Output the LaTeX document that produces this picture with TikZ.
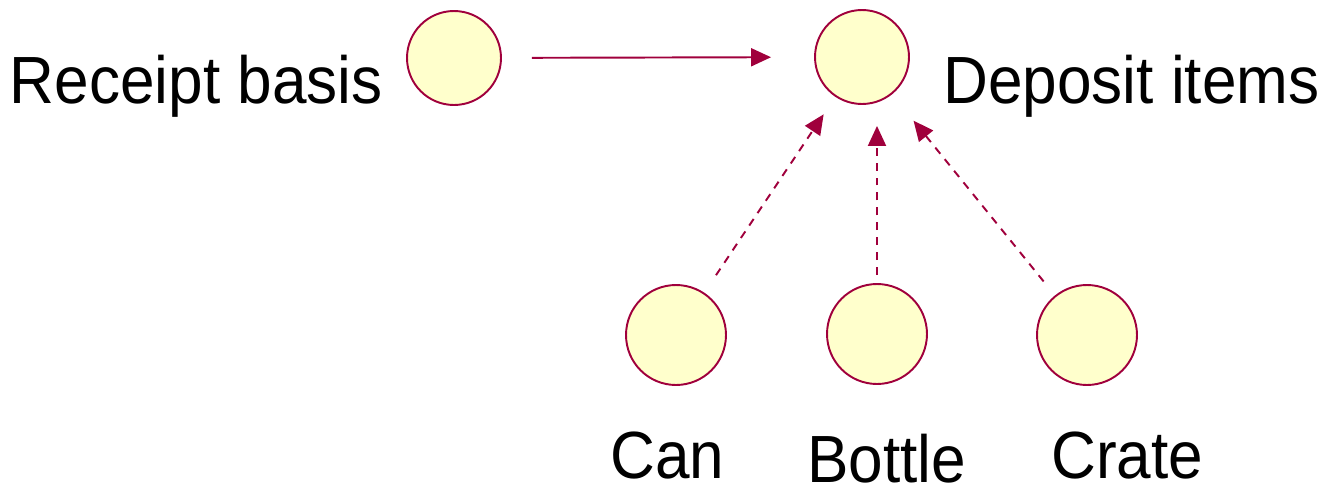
\documentclass[tikz,border=0pt]{standalone}
\usepackage{fontspec}
\setmainfont{Liberation Sans}[FakeStretch=0.93]
\usetikzlibrary{arrows.meta}
\definecolor{edgered}{HTML}{A0003C}
\definecolor{fillyellow}{HTML}{FFFFCC}
\begin{document}
\begin{tikzpicture}[x=0.02cm, y=-0.02cm,
    cls/.style={circle, draw=edgered, fill=fillyellow, line width=1.1pt, inner sep=0pt},
    lbl/.style={font=\fontsize{38}{44}\selectfont, inner sep=0pt, text depth=0pt},
    assoc/.style={draw=edgered, line width=1.1pt, -{Triangle[length=0.4cm,width=0.36cm]}},
    dep/.style={assoc, dash pattern=on 4.5pt off 4pt}]
  \useasboundingbox (0,0) rectangle (1333,487);

  % classes
  \node[cls, minimum size=1.88cm] (receipt) at (454,58) {};
  \node[cls, minimum size=1.88cm] (deposit) at (862,57) {};
  \node[cls, minimum size=2cm] (can) at (676,335) {};
  \node[cls, minimum size=2cm] (bottle) at (877,334) {};
  \node[cls, minimum size=2cm] (crate) at (1087,335) {};

  % names
  \node[lbl, anchor=base east] at (383,103) {Receipt basis};
  \node[lbl, anchor=base west] at (943,103) {Deposit items};
  \node[lbl, anchor=base west] at (610,478) {Can};
  \node[lbl, anchor=base west] at (807,482) {Bottle};
  \node[lbl, anchor=base west] at (1051,478) {Crate};

  % links
  \draw[assoc, shorten <=0.6cm, shorten >=0.86cm] (receipt) -- (deposit);
  \draw[dep, shorten <=0.42cm, shorten >=0.42cm] (can) -- (deposit);
  \draw[dep, shorten <=0.16cm, shorten >=0.42cm] (bottle.north) -- (bottle.north |- deposit.south);
  \draw[dep, shorten <=0.36cm, shorten >=0.68cm] (crate) -- (deposit);
\end{tikzpicture}
\end{document}
